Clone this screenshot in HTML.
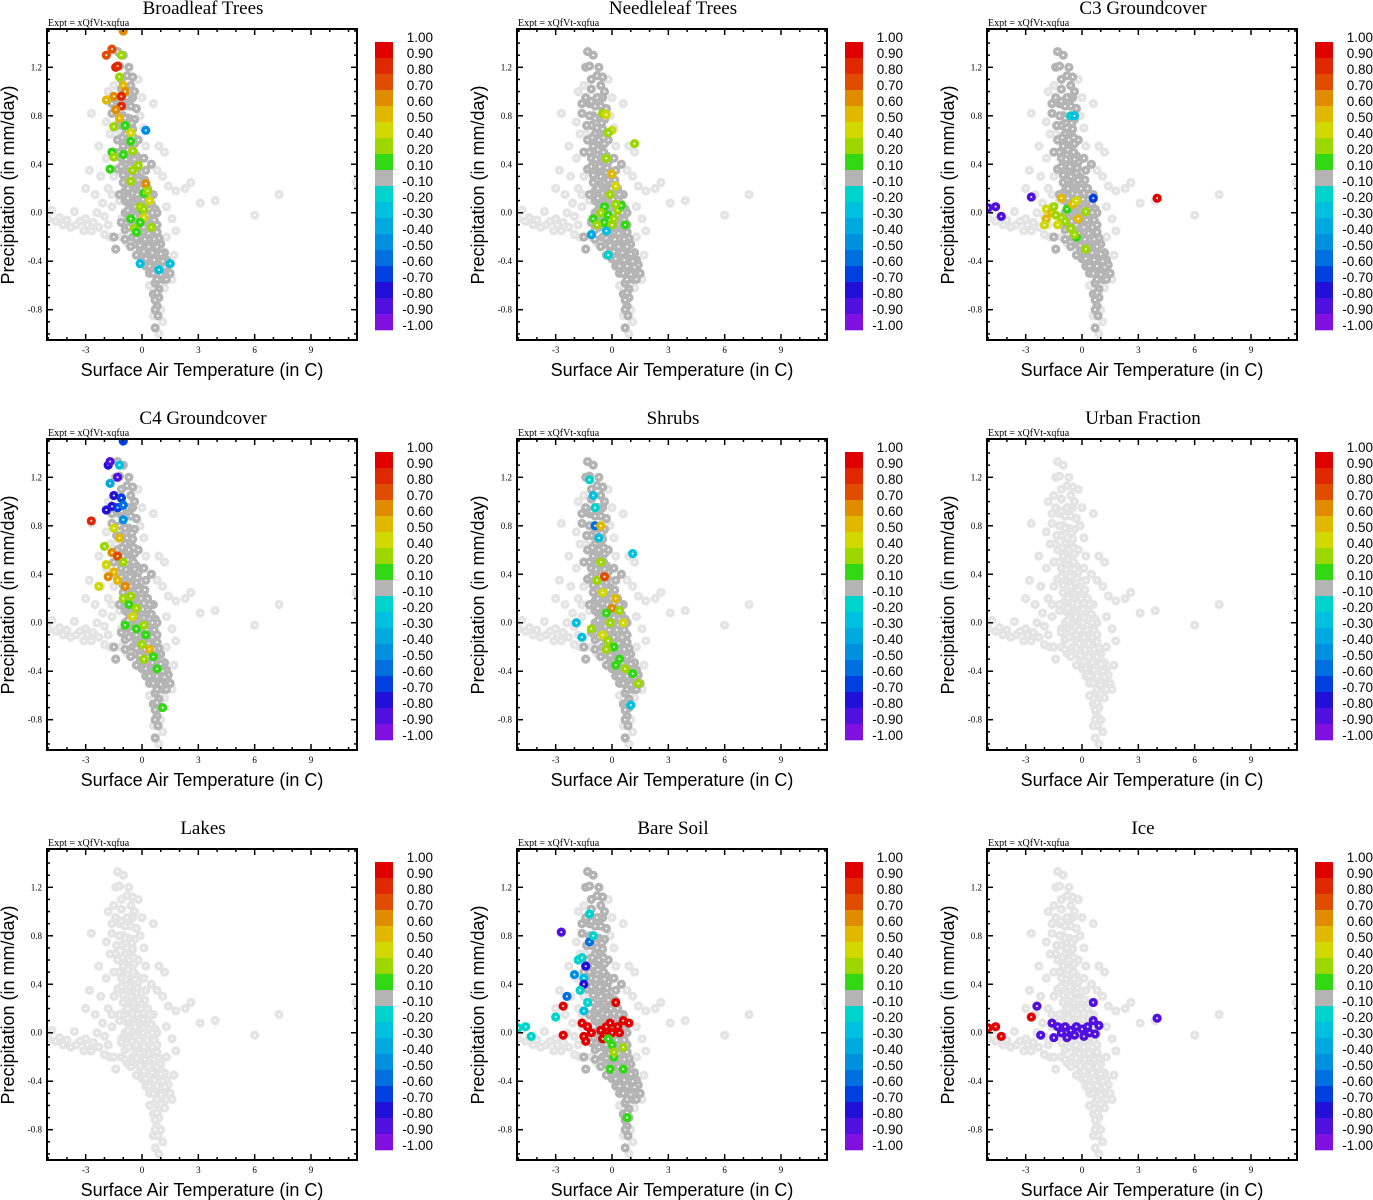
<!DOCTYPE html>
<html><head><meta charset="utf-8"><style>
html,body{margin:0;padding:0;background:#fff;}
svg{display:block;}
.serif{font-family:"Liberation Serif",serif;}
.sans{font-family:"Liberation Sans",sans-serif;}
</style></head><body>
<svg id="fig" width="1373" height="1200" viewBox="0 0 1373 1200" xmlns="http://www.w3.org/2000/svg"></svg>
<script>
// ---- shared data ----
const panelTitles = ["Broadleaf Trees","Needleleaf Trees","C3 Groundcover","C4 Groundcover","Shrubs","Urban Fraction","Lakes","Bare Soil","Ice"];
const panelHasCore = [true,true,true,true,true,false,false,true,false];
const xTicks = [-3,0,3,6,9];
const yTicks = [-0.8,-0.4,0.0,0.4,0.8,1.2];
const yTickLabels = ["-0.8","-0.4","0.0","0.4","0.8","1.2"];
const cbLevels = [1.0,0.9,0.8,0.7,0.6,0.5,0.4,0.2,0.1,-0.1,-0.2,-0.3,-0.4,-0.5,-0.6,-0.7,-0.8,-0.9,-1.0];
const cbLabels = ["1.00","0.90","0.80","0.70","0.60","0.50","0.40","0.20","0.10","-0.10","-0.20","-0.30","-0.40","-0.50","-0.60","-0.70","-0.80","-0.90","-1.00"];
const cbColors = ["#e00000","#e02800","#e04c00","#e08c00","#e0b800","#d0d800","#9cd800","#33d815","#b4b4b4","#00d2cc","#00c0e0","#00aae0","#0090e0","#0070e0","#0040e0","#2010d8","#5010e0","#8010e0"];
const coreCloud = [[-1.3,1.33],[-1.0,1.30],[-1.4,1.2],[-1.2,1.21],[-0.8,1.13],[-0.5,1.12],[-0.6,1.05],[-1.1,1.02],[-0.5,0.95],[-1.4,0.95],[-1.2,0.9],[-0.9,0.88],[-0.6,0.88],[-1.6,0.82],[-1.0,0.8],[-0.7,0.78],[-0.4,0.77],[-1.1,0.72],[-0.8,0.7],[-0.5,0.69],[-0.9,0.65],[-0.6,0.62],[-1.3,0.6],[-0.8,0.58],[-0.4,0.57],[-1.0,0.55],[-0.6,0.52],[-1.5,0.5],[-0.8,0.48],[-0.3,0.47],[-1.1,0.45],[-0.6,0.43],[-0.2,0.42],[-0.9,0.4],[-0.5,0.38],[-1.3,0.36],[-0.7,0.35],[-0.3,0.33],[-1.0,0.31],[-0.5,0.3],[-0.1,0.29],[-0.8,0.27],[-0.4,0.25],[0.0,0.24],[-0.6,0.22],[-0.2,0.2],[0.3,0.2],[-0.9,0.18],[-0.4,0.17],[0.1,0.16],[0.6,0.15],[-0.6,0.13],[-0.2,0.12],[0.3,0.11],[-0.8,0.09],[-0.4,0.08],[0.0,0.07],[0.5,0.07],[-0.6,0.04],[-0.2,0.03],[0.2,0.02],[0.7,0.03],[-0.9,0.0],[-0.5,-0.01],[-0.1,-0.02],[0.3,-0.02],[0.8,0.0],[-0.7,-0.05],[-0.3,-0.06],[0.1,-0.07],[0.5,-0.06],[-0.5,-0.1],[-0.1,-0.11],[0.3,-0.12],[0.8,-0.1],[-0.9,-0.14],[-0.3,-0.15],[0.1,-0.16],[0.6,-0.17],[-0.5,-0.2],[-0.1,-0.21],[0.4,-0.22],[0.9,-0.21],[-0.3,-0.26],[0.1,-0.27],[0.6,-0.28],[1.0,-0.26],[-0.1,-0.32],[0.3,-0.33],[0.8,-0.34],[1.2,-0.33],[0.0,-0.38],[0.4,-0.39],[0.9,-0.4],[1.3,-0.39],[0.2,-0.44],[0.6,-0.45],[1.0,-0.46],[1.4,-0.43],[0.4,-0.5],[0.8,-0.49],[1.2,-0.51],[1.5,-0.5],[0.7,-0.58],[0.9,-0.63],[0.6,-0.67],[0.9,-0.7],[0.7,-0.72],[0.8,-0.77],[0.7,-0.95],[-1.5,-0.2],[-1.4,-0.3],[-1.6,0.9],[-0.4,1.0],[-0.3,0.86],[0.5,0.4],[-0.2,0.6],[0.2,0.35],[0.1,0.45],[-0.9,0.1],[-0.3,-0.35],[0.5,-0.35],[1.1,-0.55],[0.3,-0.1],
[-0.7,0.95],[-0.9,0.78],[-0.55,0.74],[-0.7,0.6],[-0.45,0.62],[-0.75,0.52],[-0.45,0.5],[-0.85,0.44],[-0.4,0.44],[-0.65,0.38],[-0.25,0.37],[-0.6,0.3],[-0.2,0.27],[-0.75,0.2],[-0.05,0.2],[0.15,0.27],[-0.5,0.16],[-0.25,0.15],[0.4,0.15],[-0.75,0.12],[0.05,0.11],[-0.35,0.05],[0.1,0.04],[0.4,0.03],[-0.75,0.02],[-0.35,-0.03],[0.05,0.0],[0.55,0.0],[-0.55,-0.07],[-0.15,-0.06],[0.25,-0.06],[0.65,-0.06],[-0.7,-0.12],[-0.3,-0.1],[0.1,-0.12],[0.55,-0.12],[-0.15,-0.17],[0.35,-0.17],[0.8,-0.16],[-0.3,-0.21],[0.15,-0.22],[0.65,-0.22],[-0.1,-0.27],[0.35,-0.28],[0.8,-0.28],[0.1,-0.32],[0.55,-0.33],[1.0,-0.34],[0.2,-0.38],[0.65,-0.39],[1.1,-0.4],[0.4,-0.44],[0.8,-0.44],[1.2,-0.45],[0.6,-0.5],[1.0,-0.51],[1.3,-0.55],[0.8,-0.55],[0.8,-0.66],[0.7,-0.8],[0.85,-0.85],[-1.05,0.62],[-1.2,0.5],[-1.1,0.38],[-1.0,0.25],[-1.2,0.15],[-1.1,-0.08],[-0.9,-0.22],[-0.6,-0.28],[-0.8,0.95],[-1.1,1.1],[-0.7,1.2],[-1.2,0.8],[-1.35,0.72],[-1.1,0.92]];
const outerCloud = [[-5,-0.05],[-4.6,-0.07],[-4.2,-0.1],[-3.8,-0.12],[-3.5,-0.1],[-3.1,-0.15],[-3.0,-0.05],[-2.6,-0.08],[-2.3,-0.12],[-2.0,-0.03],[-1.8,-0.1],[-2.4,0.0],[-1.6,0.05],[-2.7,-0.15],[-4.8,0.02],[-3.6,0.01],[-4.4,-0.04],[-4.0,-0.06],[-3.3,-0.07],[-2.9,-0.1],[-2.1,0.08],[-2.5,0.15],[-3.0,0.2],[-2.8,0.35],[-2.2,0.3],[-1.9,0.45],[-2.3,0.55],[-1.9,0.75],[-2.7,0.82],[-1.7,0.65],[-1.8,1.0],[-1.5,1.05],[-0.2,1.1],[0.0,0.95],[-0.1,0.8],[0.1,0.7],[0.2,0.55],[0.9,0.55],[1.2,0.5],[0.8,0.35],[1.1,0.3],[1.4,0.22],[1.8,0.18],[2.3,0.2],[2.6,0.25],[3.1,0.08],[3.9,0.1],[6.0,-0.02],[7.3,0.15],[11.4,0.25],[1.3,0.05],[1.6,-0.05],[1.8,-0.15],[1.3,-0.2],[1.7,-0.35],[1.6,-0.55],[1.2,-0.62],[1.0,-0.8],[0.6,-0.85],[1.1,-0.9],[0.9,-1.0],[0.4,-0.6],[-0.8,-0.25],[-1.1,-0.2],[-1.8,0.2],[-1.2,0.1],[-1.1,-0.05],[0.6,0.9],[-1.5,0.3],[-1.6,0.15],[-1.4,0.65],[-1.7,-0.2],[-2.0,-0.18]];
const pts1 = [[-1.9,1.3,0.7],[-1.6,1.35,0.75],[-1.1,1.3,0.2],[-1.4,1.2,0.8],[-1.3,1.21,0.85],[-1.2,1.12,0.2],[-1.0,1.05,0.5],[-0.9,1.0,0.6],[-1.5,0.96,0.6],[-1.1,0.96,0.8],[-1.9,0.93,0.5],[-1.1,0.88,0.8],[-1.4,0.85,0.6],[-1.2,0.78,0.5],[-1.5,0.71,0.2],[-0.9,0.72,0.1],[0.2,0.68,-0.5],[-0.6,0.66,0.45],[-0.6,0.59,0.1],[-1.6,0.5,0.1],[-1.5,0.46,0.2],[-1.0,0.48,0.1],[-0.5,0.51,0.2],[-1.7,0.36,0.1],[-0.5,0.35,0.2],[-0.2,0.39,0.3],[-0.6,0.26,0.3],[0.2,0.24,0.6],[0.1,0.16,0.1],[0.3,0.18,0.3],[0.4,0.1,0.45],[0.0,0.03,0.1],[-0.1,0.05,0.2],[0.1,0.03,0.3],[-0.6,-0.05,0.1],[0.1,-0.04,0.45],[0.5,-0.12,0.3],[-0.4,-0.13,0.3],[-0.3,-0.16,0.1],[-0.1,-0.08,0.1],[-0.1,-0.42,-0.3],[1.5,-0.42,-0.3],[0.9,-0.47,-0.3],[-1.0,1.5,0.6]];
const pts2 = [[-0.5,0.82,0.3],[-0.3,0.81,0.45],[0.0,0.68,0.45],[-0.2,0.66,0.3],[1.2,0.57,0.3],[-0.3,0.45,0.3],[0.0,0.32,0.55],[0.2,0.22,0.45],[-0.1,0.15,0.3],[-0.4,0.05,0.15],[-1.0,-0.05,0.15],[-0.6,0.0,0.3],[-0.2,-0.02,0.15],[0.3,0.02,0.3],[0.5,0.06,0.15],[-0.4,-0.08,0.15],[0.0,-0.1,0.3],[0.7,-0.1,0.15],[-0.8,-0.1,0.3],[-0.3,-0.15,-0.3],[-1.1,-0.18,-0.4],[-0.2,-0.35,-0.15],[0.1,-0.05,0.3],[0.2,0.07,0.3]];
const pts3 = [[-5,0.04,-0.9],[-4.6,0.05,-0.9],[-4.3,-0.03,-0.85],[-2.7,0.13,-0.9],[-1.1,0.12,0.55],[4.0,0.12,0.95],[-0.6,0.8,-0.15],[-0.4,0.8,-0.3],[-1.9,0.03,0.45],[-1.6,0.0,0.55],[-1.5,0.05,0.3],[-1.4,-0.02,0.3],[-1.1,-0.04,0.3],[-0.8,0.03,0.15],[-0.5,0.07,0.55],[-0.3,0.1,0.45],[-1.9,-0.05,0.55],[-0.9,-0.07,0.3],[-0.6,-0.13,0.3],[-0.3,-0.2,0.15],[-1.3,-0.1,0.45],[-0.2,-0.05,0.55],[0.2,0.01,0.3],[0.6,0.12,-0.7],[0.2,-0.3,0.3],[-0.4,-0.18,0.3],[-2.0,-0.1,0.45]];
const pts4 = [[-1.8,1.3,-0.75],[-1.7,1.33,-0.85],[-1.2,1.3,-0.3],[-1.3,1.2,-0.85],[-1.0,1.5,-0.65],[-1.7,1.15,-0.4],[-1.5,1.05,-0.75],[-1.1,1.03,-0.65],[-1.6,0.96,-0.75],[-1.9,0.93,-0.75],[-1.3,0.95,-0.65],[-1.0,0.97,-0.55],[-2.7,0.84,0.85],[-1.0,0.85,-0.45],[-1.5,0.78,0.45],[-1.2,0.7,0.55],[-2.0,0.63,0.3],[-1.6,0.58,0.65],[-1.3,0.55,0.75],[-1.0,0.5,0.3],[-1.9,0.48,0.45],[-1.5,0.42,0.55],[-1.8,0.38,0.65],[-2.3,0.3,0.45],[-1.3,0.35,0.55],[-0.9,0.3,0.65],[-1.0,0.2,0.3],[-0.7,0.15,0.15],[-0.3,0.12,0.3],[-0.5,0.05,0.45],[-0.9,-0.02,0.15],[-0.3,-0.05,0.15],[0.1,-0.02,0.3],[0.2,-0.1,0.15],[0.0,-0.18,0.3],[0.4,-0.22,0.55],[0.6,-0.28,0.15],[0.1,-0.3,0.3],[0.8,-0.38,0.15],[1.1,-0.7,0.15],[-0.6,0.22,0.3]];
const pts5 = [[-1.2,1.18,-0.15],[-1.0,1.05,-0.3],[-0.9,0.95,-0.15],[-0.9,0.8,-0.55],[-0.6,0.8,0.55],[-0.7,0.7,-0.3],[1.1,0.57,-0.3],[-0.6,0.5,0.3],[-0.8,0.35,0.3],[-0.4,0.38,0.75],[-0.5,0.25,0.45],[0.2,0.2,0.55],[0.0,0.12,0.65],[0.4,0.1,0.3],[-0.3,0.08,0.15],[0.6,0.0,0.45],[-0.1,0.0,0.3],[-1.9,0.0,-0.3],[-1.1,-0.05,0.3],[-0.5,-0.1,0.45],[-0.2,-0.15,0.3],[0.1,-0.2,0.15],[-0.3,-0.22,0.3],[0.4,-0.3,0.15],[0.7,-0.38,0.3],[1.1,-0.42,0.15],[1.4,-0.5,0.3],[0.2,-0.35,0.15],[1.0,-0.68,-0.3],[-1.6,-0.12,-0.3]];
const pts6 = [];
const pts7 = [];
const pts8 = [[-5,0.04,-0.15],[-4.6,0.05,-0.15],[-4.3,-0.03,-0.15],[-2.7,0.83,-0.85],[-2.4,0.3,-0.6],[-2.6,0.22,0.95],[-3.0,0.13,-0.15],[-2.6,-0.02,0.95],[-1.4,0.55,-0.75],[-1.5,0.45,-0.3],[-1.8,0.6,-0.15],[-2.0,0.48,-0.45],[-1.5,0.4,-0.75],[-1.7,0.35,-0.15],[-1.3,0.25,-0.15],[-1.5,0.18,-0.3],[-1.2,0.75,-0.55],[-1.0,0.8,-0.15],[-1.2,0.98,-0.15],[-1.6,0.62,-0.15],[-1.6,0.08,0.95],[-1.3,0.05,0.95],[-1.5,-0.03,0.95],[-1.1,0.0,0.95],[-0.6,0.02,0.95],[-0.3,0.05,0.95],[-0.1,0.08,0.95],[0.3,0.05,0.95],[0.6,0.1,0.95],[0.9,0.08,0.95],[-0.4,-0.02,0.95],[0.0,0.0,0.95],[0.4,0.0,0.95],[0.2,0.25,0.95],[-0.5,-0.05,0.95],[-1.4,-0.07,0.95],[-0.2,-0.05,0.15],[0.0,-0.1,0.15],[0.1,-0.2,0.15],[0.6,-0.12,0.3],[-0.1,-0.3,0.15],[0.6,-0.3,0.15],[0.8,-0.7,0.15],[0.1,-0.16,0.3]];
const pts9 = [[-5,0.04,0.95],[-4.6,0.05,0.95],[-4.3,-0.03,0.95],[-2.7,0.13,0.95],[-2.4,0.22,-0.85],[-2.2,-0.02,-0.85],[4.0,0.12,-0.85],[0.6,0.25,-0.85],[-1.6,0.08,-0.85],[-1.3,0.05,-0.85],[-1.1,0.0,-0.85],[-0.6,0.02,-0.85],[-0.3,0.05,-0.85],[0.0,0.03,-0.85],[0.3,0.05,-0.85],[0.6,0.1,-0.85],[0.9,0.06,-0.85],[-0.4,-0.02,-0.85],[0.4,0.0,-0.85],[-0.8,-0.04,-0.85],[-1.5,-0.04,-0.85],[0.1,-0.03,-0.85],[-0.9,0.05,-0.85],[0.7,-0.01,-0.85]];
const panelPoints = [pts1,pts2,pts3,pts4,pts5,pts6,pts7,pts8,pts9];

const NS = "http://www.w3.org/2000/svg";
const svg = document.getElementById('fig');
const X0=-5.06, X1=11.45, Y0=-1.05, Y1=1.516;
const PL=47, PR=357, PT=29, PB=340;
function sx(v){return PL+(v-X0)/(X1-X0)*(PR-PL);}
function sy(v){return PB-(v-Y0)/(Y1-Y0)*(PB-PT);}
function mk(tag,attrs,parent){const e=document.createElementNS(NS,tag);for(const k in attrs)e.setAttribute(k,attrs[k]);(parent||svg).appendChild(e);return e;}
function colorFor(v){for(let i=0;i<cbColors.length;i++){if(v>=cbLevels[i+1])return cbColors[i];}return cbColors[cbColors.length-1];}
function dot(g,t,p,fill){
  mk('circle',{cx:sx(t),cy:sy(p),r:4.6,fill:fill},g);
  mk('circle',{cx:sx(t),cy:sy(p),r:1,fill:'#fff'},g);
}

for(let k=0;k<9;k++){
  const ox=(k%3)*470, oy=Math.floor(k/3)*410;
  const g=mk('g',{transform:`translate(${ox},${oy})`});
  
  
  const title=mk('text',{x:203,y:14,'text-anchor':'middle','font-size':19,class:'serif'},g);
  title.textContent=panelTitles[k];
  
  
  const ex=mk('text',{x:48,y:26,'font-size':10,class:'serif'},g);
  ex.textContent='Expt = xQfVt-xqfua';
  
  
  const cid='clip'+k;
  const cp=mk('clipPath',{id:cid},g);
  mk('rect',{x:PL,y:PT,width:PR-PL,height:PB-PT},cp);
  const pg=mk('g',{'clip-path':`url(#${cid})`},g);
  
  
  for(const q of outerCloud) dot(pg,q[0],q[1],'#e4e4e4');
  for(const q of coreCloud) dot(pg,q[0],q[1],panelHasCore[k]?'#b4b4b4':'#e4e4e4');
  for(const q of panelPoints[k]){
    const c=mk('circle',{cx:sx(q[0]),cy:sy(q[1]),r:4.6,fill:colorFor(q[2])},pg);
    
    
    mk('circle',{cx:sx(q[0]),cy:sy(q[1]),r:1,fill:'#fff'},pg);
  }
  const fr=mk('rect',{x:PL,y:PT,width:PR-PL,height:PB-PT,fill:'none',stroke:'#000','stroke-width':2},g);
  
  
  for(let v=-5;v<=11;v++){
    const maj=xTicks.includes(v), L=maj?6:3;
    mk('line',{x1:sx(v),x2:sx(v),y1:PB,y2:PB-L,stroke:'#000','stroke-width':1.5},g);
    mk('line',{x1:sx(v),x2:sx(v),y1:PT,y2:PT+L,stroke:'#000','stroke-width':1.5},g);
  }
  xTicks.forEach(v=>{
    const t=mk('text',{x:sx(v),y:PB+13,'text-anchor':'middle','font-size':9,class:'serif'},g);
    t.textContent=String(v);
    
    
  });
  for(let i=-10;i<=15;i++){
    const v=i/10, maj=(i%4===0)&&i>=-8&&i<=12, L=maj?6:3;
    mk('line',{x1:PL,x2:PL+L,y1:sy(v),y2:sy(v),stroke:'#000','stroke-width':1.5},g);
    mk('line',{x1:PR,x2:PR-L,y1:sy(v),y2:sy(v),stroke:'#000','stroke-width':1.5},g);
  }
  yTicks.forEach((v,i)=>{
    const t=mk('text',{x:42,y:sy(v)+3,'text-anchor':'end','font-size':9,class:'serif'},g);
    t.textContent=yTickLabels[i];
    
    
  });
  const xt=mk('text',{x:202,y:376,'text-anchor':'middle','font-size':18,class:'sans'},g);
  xt.textContent='Surface Air Temperature (in C)';
  
  
  const yt=mk('text',{x:0,y:0,'text-anchor':'middle','font-size':18,class:'sans',transform:'translate(14,185) rotate(-90)'},g);
  yt.textContent='Precipitation (in mm/day)';
  
  
  const cb=mk('g',{},g);
  
  
  cbColors.forEach((c,i)=>{
    mk('rect',{x:375,y:42+i*16,width:18,height:16.3,fill:c},cb);
  });
  cbLabels.forEach((s,i)=>{
    const t=mk('text',{x:433,y:42+i*16,'text-anchor':'end','font-size':13.5,class:'sans'},cb);
    t.textContent=s;
    
    
  });
}
</script>
</body></html>
